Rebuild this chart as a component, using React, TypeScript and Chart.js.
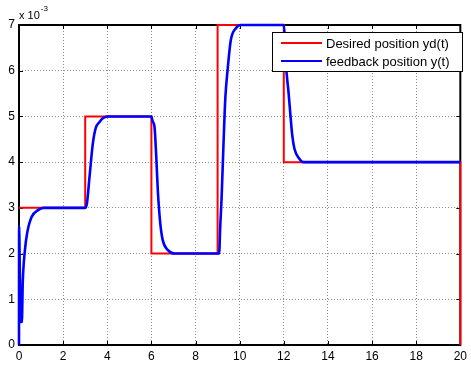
import { useEffect, useRef } from 'react';
import { Chart, registerables } from 'chart.js';

Chart.register(...registerables);

// Desired position (step reference), values in units of 10^-3
const desiredT = [0, 3, 3, 6, 6, 9, 9, 12, 12, 20, 20];
const desiredY = [3, 3, 5, 5, 2, 2, 7, 7, 4, 4, 0];

// Feedback position, values in units of 10^-3
const feedbackT = [
  0, 0.005, 0.04, 0.08, 0.11, 0.13, 0.17, 0.27, 0.37, 0.57, 0.86, 1.1,
  3.0, 3.08, 3.2, 3.35, 3.48, 3.65, 3.8, 4.0,
  6.0, 6.05, 6.14, 6.22, 6.29, 6.4, 6.51, 6.74, 7.04,
  9.07, 9.12, 9.18, 9.26, 9.35, 9.45, 9.6, 9.83, 10.05,
  12.0, 12.05, 12.08, 12.22, 12.3, 12.38, 12.48, 12.68, 12.9, 20,
];
const feedbackY = [
  0, 2.6, 1.5, 0.5, 0.8, 0.5, 1.36, 2.08, 2.45, 2.8, 2.95, 3.0,
  3.0, 3.1, 3.7, 4.42, 4.75, 4.88, 4.96, 5.0,
  5.0, 4.9, 4.78, 4.12, 3.39, 2.67, 2.3, 2.08, 2.0,
  2.0, 2.6, 3.2, 4.3, 5.4, 6.0, 6.67, 6.93, 7.0,
  7.0, 6.7, 6.28, 5.5, 5.03, 4.6, 4.3, 4.09, 4.0, 4.0,
];

const xTicks = [0, 2, 4, 6, 8, 10, 12, 14, 16, 18, 20];
const yTicks = [0, 1, 2, 3, 4, 5, 6, 7];
const seriesNames = ['Desired position yd(t)', 'feedback position y(t)'];
const seriesColors = ['#ff0000', '#0000ff'];
const exponentBase = 'x 10';
const exponentPower = '-3';

const FONT = '"Liberation Sans", Arial, sans-serif';

const matlabPlugin = {
  id: 'matlabDecor',
  beforeDatasetsDraw(chart: any) {
    const { ctx, chartArea: a, scales } = chart;
    ctx.save();
    ctx.strokeStyle = '#000';
    ctx.lineWidth = 1;
    ctx.beginPath();
    xTicks.forEach((t) => {
      const px = Math.round(scales.x.getPixelForValue(t)) + 0.5;
      ctx.moveTo(px, a.bottom);
      ctx.lineTo(px, a.bottom - 4);
      ctx.moveTo(px, a.top);
      ctx.lineTo(px, a.top + 4);
    });
    yTicks.forEach((t) => {
      const py = Math.round(scales.y.getPixelForValue(t)) + 0.5;
      ctx.moveTo(a.left, py);
      ctx.lineTo(a.left + 4, py);
      ctx.moveTo(a.right, py);
      ctx.lineTo(a.right - 4, py);
    });
    ctx.stroke();
    ctx.lineWidth = 2;
    ctx.strokeRect(a.left, a.top, a.right - a.left, a.bottom - a.top);
    ctx.restore();
  },
  afterDraw(chart: any) {
    const { ctx, chartArea: a } = chart;
    ctx.save();
    ctx.fillStyle = '#000';
    ctx.textBaseline = 'alphabetic';
    ctx.textAlign = 'left';
    ctx.font = `11px ${FONT}`;
    ctx.fillText(exponentBase, a.left, 19);
    const w = ctx.measureText(exponentBase).width;
    ctx.font = `8px ${FONT}`;
    ctx.fillText(exponentPower, a.left + w + 1, 11);

    const lx = 272, ly = 32, lw = 190, lh = 39;
    ctx.fillStyle = '#fff';
    ctx.fillRect(lx, ly, lw, lh);
    ctx.strokeStyle = '#000';
    ctx.lineWidth = 1;
    ctx.strokeRect(lx + 0.5, ly + 0.5, lw, lh);
    const rows = [43, 61];
    seriesNames.forEach((name, i) => {
      ctx.strokeStyle = seriesColors[i];
      ctx.lineWidth = 2;
      ctx.beginPath();
      ctx.moveTo(281, rows[i]);
      ctx.lineTo(322, rows[i]);
      ctx.stroke();
      ctx.fillStyle = '#000';
      ctx.font = `13px ${FONT}`;
      ctx.textBaseline = 'middle';
      ctx.fillText(name, 326, rows[i] + 1);
    });
    ctx.restore();
  },
};

export default function App() {
  const ref = useRef<HTMLCanvasElement>(null);

  useEffect(() => {
    document.body.style.margin = '0';
    const desired = desiredT.map((t, i) => ({ x: t, y: desiredY[i] }));
    const feedback = feedbackT.map((t, i) => ({ x: t, y: feedbackY[i] }));
    const chart = new Chart(ref.current as HTMLCanvasElement, {
      type: 'line',
      data: {
        datasets: [
          {
            label: seriesNames[1],
            data: feedback,
            borderColor: seriesColors[1],
            borderWidth: 2.6,
            pointRadius: 0,
            cubicInterpolationMode: 'monotone',
            fill: false,
            clip: 6,
          } as any,
          {
            label: seriesNames[0],
            data: desired,
            borderColor: seriesColors[0],
            borderWidth: 2,
            pointRadius: 0,
            tension: 0,
            fill: false,
            clip: 6,
          } as any,
        ],
      },
      options: {
        animation: false,
        responsive: false,
        devicePixelRatio: 1,
        parsing: false as any,
        layout: { padding: { top: 25, right: 8, left: 0, bottom: 0 } },
        plugins: { legend: { display: false }, tooltip: { enabled: false } },
        scales: {
          x: {
            type: 'linear',
            min: 0,
            max: 20,
            afterFit: (s: any) => { s.height = 22; },
            afterBuildTicks: (s: any) => { s.ticks = xTicks.map((v) => ({ value: v })); },
            ticks: { color: '#000', font: { family: FONT, size: 12 }, padding: 4, maxRotation: 0, autoSkip: false },
            grid: { color: '#8c8c8c', lineWidth: 1, drawTicks: false } as any,
            border: { display: false, dash: [1, 2] },
          },
          y: {
            type: 'linear',
            min: 0,
            max: 7,
            afterFit: (s: any) => { s.width = 19; },
            afterBuildTicks: (s: any) => { s.ticks = yTicks.map((v) => ({ value: v })); },
            ticks: { color: '#000', font: { family: FONT, size: 12 }, padding: 4, autoSkip: false },
            grid: { color: '#8c8c8c', lineWidth: 1, drawTicks: false } as any,
            border: { display: false, dash: [1, 2] },
          },
        },
      },
      plugins: [matlabPlugin],
    });
    return () => chart.destroy();
  }, []);

  return (
    <div style={{ position: 'fixed', left: 0, top: 0, width: 471, height: 367, background: '#fff' }}>
      <canvas ref={ref} width={471} height={367} />
    </div>
  );
}
